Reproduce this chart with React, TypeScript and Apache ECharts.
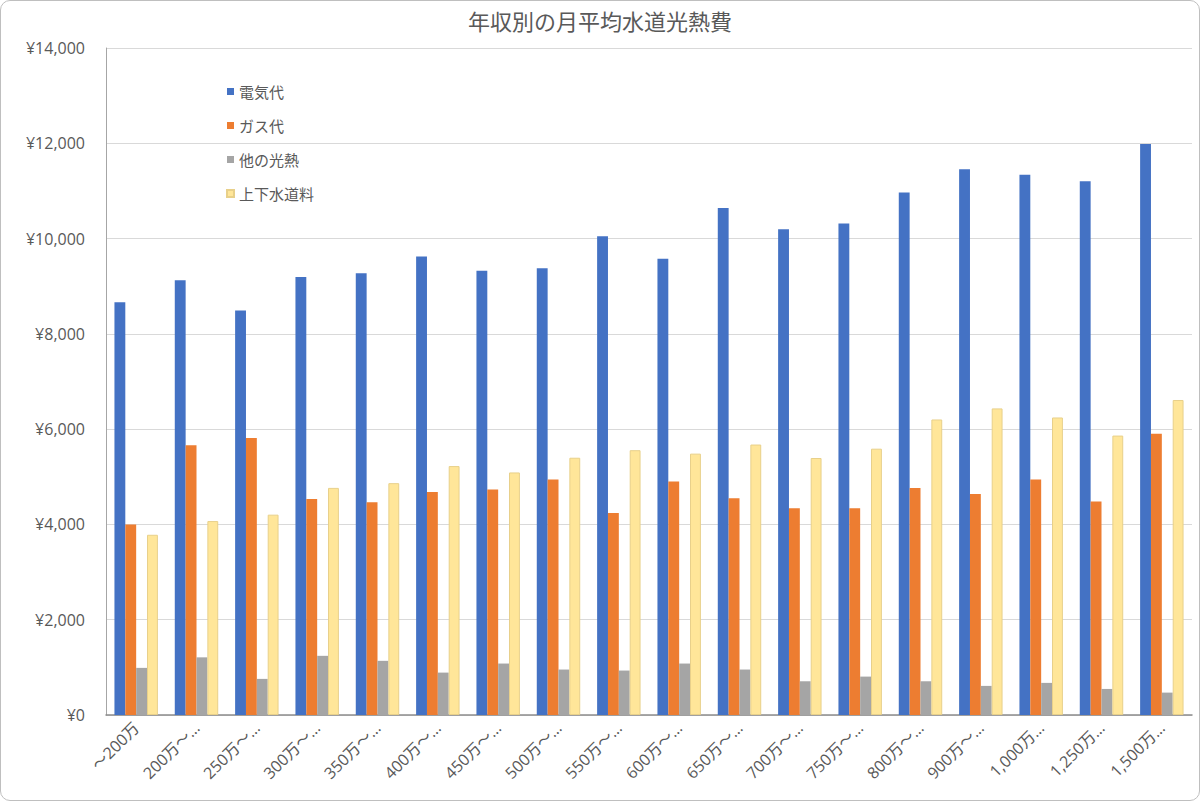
import { useEffect, useRef } from 'react';
import * as echarts from 'echarts';

const categories = [
  '～200万', '200万～…', '250万～…', '300万～…', '350万～…', '400万～…',
  '450万～…', '500万～…', '550万～…', '600万～…', '650万～…', '700万～…',
  '750万～…', '800万～…', '900万～…', '1,000万…', '1,250万…', '1,500万…',
];

const electricity = [
  8663, 9124, 8489, 9196, 9271, 9622, 9322, 9376, 10047,
  9576, 10642, 10197, 10318, 10967, 11455, 11342, 11201, 11986,
];
const gas = [
  4000, 5662, 5816, 4534, 4465, 4682, 4733, 4944, 4239,
  4902, 4549, 4338, 4338, 4767, 4640, 4944, 4479, 5901,
];
const otherHeat = [
  989, 1210, 758, 1242, 1137, 890, 1080, 954, 933,
  1080, 954, 708, 806, 708, 611, 674, 547, 470,
];
const water = [
  3783, 4070, 4205, 4767, 4866, 5225, 5091, 5400, 5558,
  5486, 5677, 5394, 5590, 6203, 6435, 6245, 5865, 6612,
];

const seriesNames = ['電気代', 'ガス代', '他の光熱', '上下水道料'];
const seriesColors = ['#4472C4', '#ED7D31', '#A5A5A5', '#FFE699'];
const seriesBorders = ['#4472C4', '#ED7D31', '#A5A5A5', '#E8D08A'];

const font = '"Segoe UI", "Open Sans", "Noto Sans CJK JP", sans-serif';
const textColor = '#595959';

export default function App() {
  const ref = useRef<HTMLDivElement>(null);

  useEffect(() => {
    const el = ref.current;
    if (!el) return undefined;
    const chart = echarts.init(el, undefined, { renderer: 'svg' });
    const values = [electricity, gas, otherHeat, water];

    chart.setOption({
      animation: false,
      backgroundColor: 'transparent',
      title: {
        text: '年収別の月平均水道光熱費',
        left: 'center',
        top: 5,
        textStyle: { color: textColor, fontSize: 22, fontWeight: 'normal', fontFamily: font },
      },
      legend: {
        orient: 'vertical',
        left: 226,
        top: 84,
        padding: 0,
        itemGap: 19,
        itemWidth: 7,
        itemHeight: 7,
        icon: 'rect',
        data: seriesNames,
        textStyle: { color: textColor, fontSize: 15, fontFamily: font },
      },
      grid: { left: 106, right: 8, top: 48, bottom: 86, containLabel: false },
      xAxis: {
        type: 'category',
        data: categories,
        axisLine: { lineStyle: { color: '#8c8c8c', width: 1.5 } },
        axisTick: { show: false },
        axisLabel: {
          rotate: 45,
          interval: 0,
          color: textColor,
          fontSize: 16,
          fontFamily: font,
          margin: 10,
        },
      },
      yAxis: {
        type: 'value',
        min: 0,
        max: 14000,
        interval: 2000,
        axisLine: { show: true, lineStyle: { color: '#a6a6a6' } },
        axisTick: { show: false },
        splitLine: { lineStyle: { color: '#d9d9d9' } },
        axisLabel: {
          color: textColor,
          fontSize: 16,
          fontFamily: font,
          margin: 21,
          formatter: (v: number) => '¥' + v.toLocaleString('en-US'),
        },
      },
      series: seriesNames.map((name, i) => ({
        name,
        type: 'bar',
        data: values[i],
        barGap: '0%',
        barCategoryGap: '28%',
        itemStyle: { color: seriesColors[i], borderColor: seriesBorders[i], borderWidth: i === 3 ? 1 : 0 },
      })),
    });

    return () => chart.dispose();
  }, []);

  return (
    <div
      style={{
        position: 'absolute',
        left: 0,
        top: 0,
        width: 1200,
        height: 801,
        boxSizing: 'border-box',
        border: '1px solid #bfbfbf',
        borderRadius: 10,
        background: '#fff',
        overflow: 'hidden',
      }}
    >
      <div ref={ref} style={{ position: 'absolute', left: -1, top: -1, width: 1200, height: 801 }} />
    </div>
  );
}
